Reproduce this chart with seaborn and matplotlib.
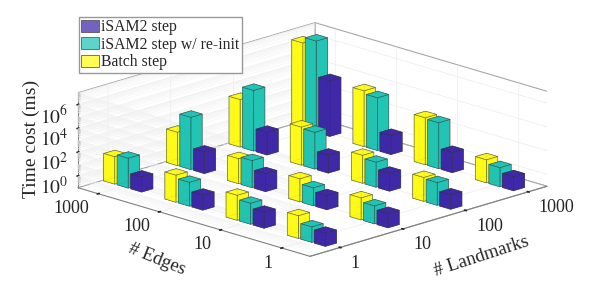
import numpy as np
import matplotlib
matplotlib.use("Agg")
import matplotlib.pyplot as plt
import seaborn as sns
from matplotlib.patches import Patch
from mpl_toolkits.mplot3d import proj3d

landmarks = ["1", "10", "100", "1000"]
edges = ["1", "10", "100", "1000"]
z_ticks = [1e0, 1e2, 1e4, 1e6]
z_labels = ["$10^{0}$", "$10^{2}$", "$10^{4}$", "$10^{6}$"]

# time cost in ms, rows = edges, columns = landmarks
batch = [[8, 7, 10, 8.5],
         [12.6, 8.5, 22, 890],
         [18.6, 12.6, 160, 5000],
         [20, 63, 1000, 1.6e6]]
reinit = [[2, 3.2, 8, 4],
          [5.8, 3.2, 12.6, 740],
          [10, 18.6, 126, 2800],
          [32, 2500, 12600, 5e6]]
isam2 = [[1.26, 1.6, 1.6, 1.5],
         [2.2, 1.5, 3.2, 5],
         [1.8, 3.2, 3.2, 4],
         [1.8, 6.3, 8, 5000]]

series_names = ["iSAM2 step", "iSAM2 step w/ re-init", "Batch step"]
colors = sns.color_palette(["#3e26a8", "#1fc4b4", "#fffb14"])

sns.set_theme(style="white")
plt.rcParams["font.family"] = ["Liberation Serif"]
plt.rcParams["mathtext.fontset"] = "stix"
plt.rcParams["text.color"] = "#262626"

fig = plt.figure(figsize=(6.05, 2.9), dpi=100)
ax = fig.add_axes([0, 0, 1, 1], projection="3d", proj_type="ortho", computed_zorder=False)
ax.view_init(elev=17.2, azim=-135)
ax.set_box_aspect((335, 328, 99.4), zoom=1.0)

xlim = (-0.48, 3.3)
ylim = (-0.46, 3.33)
zlim = (-1, 7)
ax.set_xlim(*xlim, view_margin=0)
ax.set_ylim(*ylim, view_margin=0)
ax.set_zlim(*zlim, view_margin=0)

# bars, back ones first so they overlap properly
width = 0.18
step = 0.22
bars = []
for offset, values, color in [(step, batch, colors[2]), (0, reinit, colors[1]), (-step, isam2, colors[0])]:
    for e in range(4):
        for l in range(4):
            bars.append((l, e + offset, np.log10(values[e][l]), color))
bars.sort(key=lambda b: -(b[0] + b[1]))

for i, (x, y, top, color) in enumerate(bars):
    bar = ax.bar3d(x - width / 2, y - width / 2, zlim[0], width, width, top - zlim[0],
                   color=(*color, 0.88), edgecolor="#33333388", linewidth=0.5, shade=False, zorder=10 + i)
    bar.set_clip_on(False)

# axes
ax.set_xticks(range(4))
ax.set_xticklabels(landmarks, fontsize=13)
ax.set_yticks(range(4))
ax.set_yticklabels(edges, fontsize=13)
ax.set_zticks(np.log10(z_ticks))
ax.set_zticklabels(z_labels, fontsize=14)
ax.tick_params(axis="x", pad=-3, colors="#262626")
ax.tick_params(axis="y", pad=-3.7, colors="#262626")
ax.tick_params(axis="z", pad=-2.5, colors="#262626")
for tick in ax.xaxis.get_major_ticks():
    tick.label1.set_ha("left")
for tick in ax.yaxis.get_major_ticks():
    tick.label1.set_ha("right")

for axis in [ax.xaxis, ax.yaxis, ax.zaxis]:
    axis.set_pane_color((1, 1, 1, 1))
    axis.pane.set_edgecolor("#a8a8a8")
    axis.pane.set_linewidth(0.8)
    axis.line.set_color("#808080")
    axis.line.set_linewidth(0.8)
    axis._axinfo["grid"].update(color="#ebebeb", linewidth=0.5)
    axis._axinfo["tick"].update(color="#999999", inward_factor=0.05, outward_factor=0.05)
ax.grid(True)

# minor log grid on the two back walls, with the small ticks on the left edge
for dec in range(zlim[0], zlim[1]):
    for m in range(2, 10):
        z = dec + np.log10(m)
        ax.plot([xlim[0], xlim[0]], [ylim[0], ylim[1]], [z, z], color="#f1f1f1", lw=0.35, zorder=1, clip_on=False)
        ax.plot([xlim[0], xlim[1]], [ylim[1], ylim[1]], [z, z], color="#f1f1f1", lw=0.35, zorder=1, clip_on=False)
        ax.plot([xlim[0], xlim[0]], [ylim[1] - 0.04, ylim[1]], [z, z], color="#b0b0b0", lw=0.35, zorder=2, clip_on=False)

handles = [Patch(facecolor=(*c, 0.72), edgecolor="#444444", linewidth=0.5) for c in colors]
fig.legend(handles, series_names, loc="upper left", bbox_to_anchor=(79 / 605, 1 - 17 / 290),
           borderaxespad=0, fontsize=11.3, frameon=True, fancybox=False, edgecolor="#999999", framealpha=1,
           handlelength=1.1, handleheight=0.8, handletextpad=0.15, labelspacing=0.1, borderpad=0.15)

fig.text(31 / 605, 1 - 139 / 290, "Time cost (ms)", fontsize=14, rotation=90, ha="center", va="center")
fig.text(157 / 605, 1 - 259 / 290, "# Edges", fontsize=13.5, rotation=-22, ha="center", va="center")
fig.text(482 / 605, 1 - 256 / 290, "# Landmarks", fontsize=13.5, rotation=18, ha="center", va="center")


# fit the box onto the pixel position of the reference
def corner_px(x, y, z):
    px, py, _ = proj3d.proj_transform(x, y, z, ax.get_proj())
    return ax.transData.transform((px, py))


fig.canvas.draw()
left = corner_px(xlim[0], ylim[1], zlim[0])
right = corner_px(xlim[1], ylim[0], zlim[0])
ax.set_box_aspect((335, 328, 99.4), zoom=469 / (right[0] - left[0]))
fig.canvas.draw()
left = corner_px(xlim[0], ylim[1], zlim[0])
right = corner_px(xlim[1], ylim[0], zlim[0])
dx = 78 - left[0]
dy = (290 - 187) - (left[1] + right[1]) / 2
ax.set_position([dx / 605, dy / 290, 1, 1])

fig.savefig("out.png", dpi=100)
